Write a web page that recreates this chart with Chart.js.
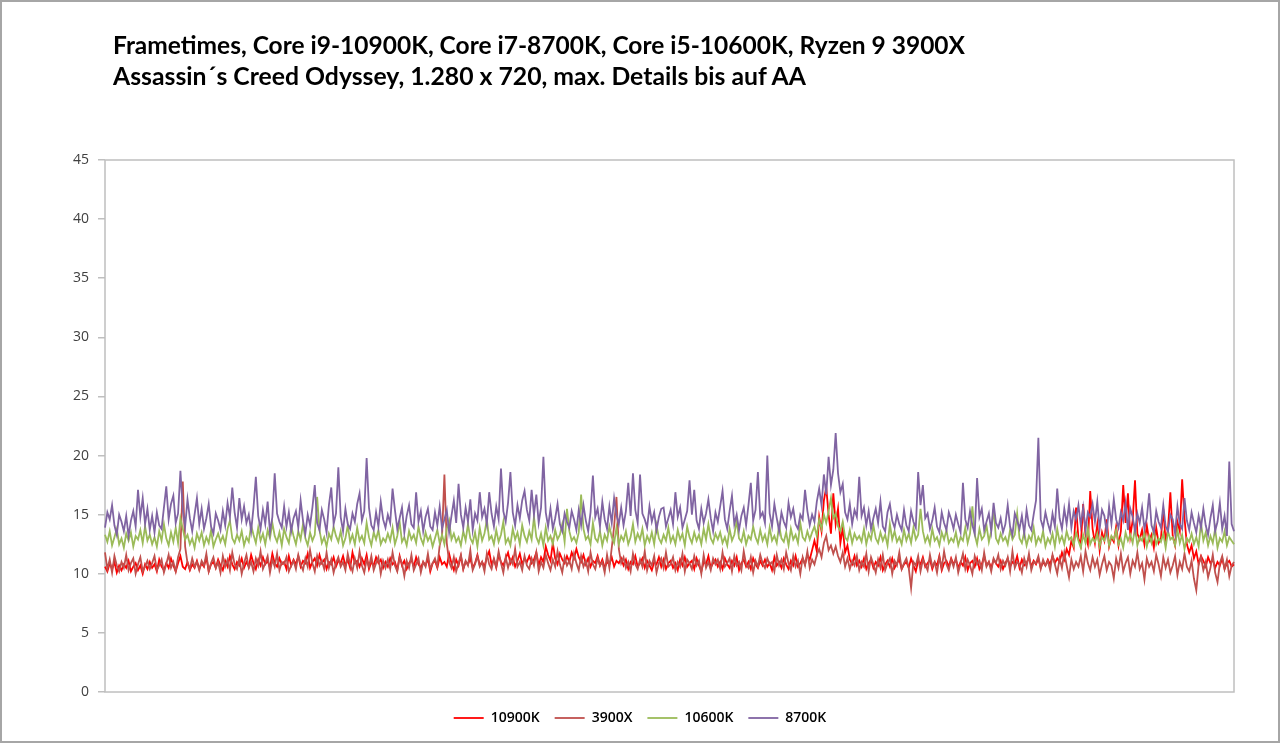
<!DOCTYPE html>
<html lang="de">
<head>
<meta charset="utf-8">
<title>Frametimes Assassin´s Creed Odyssey</title>
<script src="https://cdn.jsdelivr.net/npm/chart.js@4.4.1/dist/chart.umd.min.js"></script>
<style>
    html, body { margin: 0; padding: 0; background: #fff; }
    #frame {
        position: relative;
        width: 1280px;
        height: 743px;
        box-sizing: border-box;
        border: 2px solid #a6a6a6;
        overflow: hidden;
    }
    #chart { position: absolute; left: -2px; top: -2px; }
    .title-line {
        position: absolute;
        left: 111px;
        font-family: Lato, "Open Sans", sans-serif;
        font-weight: bold;
        font-size: 25px;
        color: #000;
        white-space: nowrap;
        transform-origin: 0 0;
        line-height: 1;
    }
    #title1 { top: 30px; }
    #title2 { top: 61px; }
</style>
</head>
<body>
<div id="frame">
    <canvas id="chart" width="1280" height="743"></canvas>
    <div class="title-line" id="title1" data-w="852">Frametimes, Core i9-10900K, Core i7-8700K, Core i5-10600K, Ryzen 9 3900X</div>
    <div class="title-line" id="title2" data-w="693">Assassin´s Creed Odyssey, 1.280 x 720, max. Details bis auf AA</div>
</div>
<script>
// Frametimes in ms (480 Stuetzpunkte je Reihe, 20 pro Zeile)
const seriesNames = ['10900K', '3900X', '10600K', '8700K'];
const seriesColors = ['#FF0000', '#C0504D', '#9BBB59', '#8064A2'];
const yTicks = [0, 5, 10, 15, 20, 25, 30, 35, 40, 45];

const ft10900K = [
    10.6, 10.2, 10.9, 10.4, 11.0, 10.1, 10.7, 10.3, 10.8, 10.5, 11.1, 10.2, 10.6, 10.9, 10.3, 10.7, 10.0, 10.8, 10.4, 11.0,
    10.5, 10.8, 10.2, 11.2, 10.6, 10.3, 10.9, 10.5, 11.3, 10.7, 10.2, 10.9, 11.5, 10.6, 10.4, 11.0, 10.3, 10.8, 10.5, 11.1,
    10.4, 10.9, 10.6, 11.4, 10.2, 10.8, 11.0, 10.5, 11.2, 10.7, 10.3, 11.1, 10.6, 11.5, 10.8, 10.4, 11.0, 10.7, 11.3, 10.5,
    11.0, 10.6, 11.6, 10.9, 10.4, 11.2, 10.7, 11.4, 10.8, 11.1, 10.5, 11.7, 10.9, 10.6, 11.3, 10.8, 11.0, 10.4, 11.5, 10.7,
    11.2, 10.8, 11.5, 10.6, 11.1, 10.9, 11.7, 10.5, 11.0, 11.3, 10.7, 11.6, 10.9, 11.2, 10.4, 11.0, 10.8, 11.4, 10.6, 11.1,
    10.9, 11.5, 10.7, 11.2, 10.5, 11.8, 10.9, 11.1, 10.6, 11.3, 10.8, 11.6, 10.4, 11.0, 10.7, 11.4, 10.9, 11.2, 10.5, 11.0,
    10.6, 11.3, 10.8, 11.0, 10.3, 11.5, 10.7, 11.1, 10.4, 10.9, 11.2, 10.6, 11.4, 10.8, 10.5, 11.0, 10.7, 11.3, 10.2, 10.9,
    11.1, 10.5, 11.4, 10.8, 11.0, 10.6, 11.7, 10.9, 10.3, 11.2, 10.7, 11.5, 10.4, 11.0, 10.8, 11.3, 10.5, 10.9, 11.6, 10.7,
    11.0, 10.6, 11.4, 11.9, 10.8, 11.2, 10.5, 11.6, 11.0, 10.7, 11.3, 11.8, 10.9, 11.4, 10.6, 11.1, 11.7, 10.8, 11.3, 11.0,
    11.5, 10.9, 11.2, 11.8, 10.7, 11.4, 11.0, 12.3, 11.6, 11.1, 12.6, 11.3, 10.8, 11.7, 11.2, 10.9, 11.5, 11.0, 11.8, 11.3,
    12.1, 11.4, 11.0, 11.6, 10.8, 11.3, 10.6, 11.1, 10.9, 11.5, 10.7, 11.2, 10.5, 11.0, 10.8, 11.4, 10.6, 11.1, 10.9, 11.3,
    10.7, 11.2, 10.4, 11.0, 10.8, 11.5, 10.6, 10.9, 11.3, 10.5, 11.1, 10.7, 10.3, 11.0, 10.8, 11.4, 10.6, 11.2, 10.4, 10.9,
    11.1, 10.5, 10.9, 10.3, 11.2, 10.7, 11.4, 10.6, 10.9, 11.1, 10.4, 11.3, 10.7, 10.2, 11.0, 10.8, 11.5, 10.5, 10.9, 11.2,
    10.6, 11.0, 10.4, 11.3, 10.8, 10.5, 11.1, 10.7, 11.4, 10.3, 10.9, 11.2, 10.6, 11.0, 10.4, 11.3, 10.8, 10.5, 11.1, 10.7,
    11.2, 10.6, 10.9, 10.3, 11.4, 10.7, 11.0, 10.5, 11.3, 10.8, 10.4, 11.1, 10.7, 11.5, 10.6, 10.9, 11.3, 10.8, 11.6, 11.2,
    12.0, 12.8, 11.9, 14.8, 13.6, 16.2, 17.3, 15.0, 13.4, 16.8, 14.2, 15.5, 12.6, 13.9, 11.8, 12.4, 11.2, 10.8, 11.5, 10.7,
    11.1, 10.6, 11.3, 10.4, 10.9, 11.2, 10.5, 11.0, 10.7, 11.4, 10.3, 10.8, 11.1, 10.6, 11.3, 10.5, 10.9, 11.2, 10.4, 10.8,
    11.0, 10.5, 11.3, 10.7, 10.2, 11.1, 10.8, 11.4, 10.6, 10.9, 11.2, 10.4, 11.0, 10.7, 11.5, 10.3, 10.9, 11.1, 10.6, 11.3,
    10.8, 11.2, 10.5, 11.0, 10.7, 11.4, 10.3, 10.9, 11.1, 10.6, 11.3, 10.4, 10.8, 11.5, 10.7, 11.0, 10.5, 11.2, 10.9, 10.6,
    11.1, 10.4, 10.9, 11.3, 10.6, 11.0, 10.8, 11.5, 10.5, 11.2, 10.7, 10.9, 11.4, 10.6, 11.1, 10.8, 11.3, 10.5, 11.0, 10.7,
    11.2, 10.8, 11.5, 10.9, 11.3, 11.0, 11.8, 11.2, 12.1, 11.6, 12.8, 12.2, 15.6, 13.0, 12.4, 15.9, 13.3, 12.5, 17.0, 13.8,
    12.6, 14.2, 12.0, 13.5, 12.8, 14.6, 12.3, 13.1, 12.7, 14.0, 12.4, 13.6, 17.5, 14.3, 16.8, 13.2, 14.5, 17.9, 13.4, 12.9,
    13.7, 12.5, 14.1, 12.8, 13.3, 12.2, 13.9, 12.6, 13.0, 15.5, 12.7, 13.8, 16.9, 13.2, 12.4, 14.4, 13.6, 18.0, 14.7, 12.5,
    11.8, 12.4, 11.3, 11.9, 10.8, 11.5, 11.1, 10.6, 11.4, 10.9, 11.2, 10.5, 11.0, 10.7, 11.3, 10.4, 10.9, 11.1, 10.6, 10.8
];

const ft3900X = [
    11.8, 10.4, 11.2, 10.1, 11.5, 10.7, 10.2, 11.0, 10.5, 11.6, 10.3, 10.9, 11.3, 10.0, 10.8, 11.4, 10.2, 10.6, 11.1, 10.4,
    10.9, 11.5, 10.3, 10.7, 11.2, 10.1, 10.8, 11.6, 10.5, 11.0, 10.2, 11.4, 12.1, 17.8, 12.3, 10.9, 10.4, 11.3, 10.6, 11.0,
    10.3, 11.1, 10.7, 11.7, 10.2, 10.9, 11.4, 10.5, 11.0, 10.1, 11.5, 10.6, 11.2, 10.3, 11.8, 10.8, 10.4, 11.3, 10.0, 10.9,
    11.6, 10.5, 11.0, 10.2, 11.3, 10.7, 11.9, 10.4, 10.9, 11.5, 10.1, 11.2, 10.6, 11.7, 10.3, 11.0, 10.8, 11.4, 10.2, 10.7,
    11.1, 10.4, 11.6, 10.8, 10.3, 11.3, 10.6, 12.0, 10.9, 10.2, 11.5, 10.7, 11.1, 10.4, 11.8, 10.5, 11.2, 10.1, 10.9, 11.4,
    10.6, 11.0, 10.3, 11.7, 10.8, 10.2, 11.3, 10.5, 11.9, 10.7, 10.1, 11.2, 10.6, 11.5, 10.3, 10.9, 11.4, 10.0, 11.1, 10.5,
    11.2, 10.4, 11.8, 10.7, 10.2, 11.4, 10.9, 9.8, 11.1, 10.5, 11.6, 10.3, 10.8, 11.3, 10.1, 11.0, 10.6, 11.7, 10.4, 10.9,
    11.3, 10.6, 12.4, 13.2, 18.4, 12.6, 11.0, 10.5, 11.4, 10.2, 10.9, 11.6, 10.4, 11.1, 10.7, 12.0, 10.3, 10.8, 11.5, 10.6,
    11.0, 10.2, 11.7, 10.8, 10.4, 11.3, 10.6, 11.9, 10.9, 10.1, 11.4, 10.5, 11.2, 10.8, 12.1, 10.6, 11.0, 10.3, 11.5, 10.7,
    10.4, 11.3, 10.7, 11.8, 10.2, 11.0, 10.5, 11.6, 10.9, 10.3, 11.2, 10.6, 11.9, 10.8, 10.1, 11.4, 10.7, 11.1, 10.4, 11.7,
    10.9, 10.3, 11.5, 10.6, 11.1, 10.2, 11.8, 10.8, 10.4, 11.3, 10.7, 11.0, 10.1, 11.6, 10.5, 12.2, 14.0, 16.5, 12.1, 10.9,
    11.4, 10.5, 11.0, 10.2, 11.7, 10.8, 10.4, 11.2, 10.6, 11.9, 10.3, 11.1, 10.7, 11.5, 10.1, 10.9, 11.3, 10.5, 11.8, 10.6,
    10.8, 11.4, 10.3, 11.0, 10.6, 11.7, 10.2, 11.2, 10.9, 10.4, 11.5, 10.7, 11.1, 10.0, 11.6, 10.5, 11.0, 10.3, 11.3, 10.8,
    11.2, 10.4, 11.8, 10.6, 10.9, 11.3, 10.2, 11.5, 10.7, 11.0, 10.3, 11.9, 10.8, 10.5, 11.4, 10.1, 11.1, 10.6, 11.6, 10.9,
    10.5, 11.3, 10.8, 11.0, 10.2, 11.6, 10.7, 11.2, 10.4, 11.8, 10.9, 10.3, 11.5, 10.6, 11.1, 10.0, 11.4, 10.7, 11.9, 10.5,
    11.2, 10.8, 11.6, 12.1, 11.4, 12.6, 13.2, 12.0, 12.4, 11.7, 12.3, 11.5, 11.0, 11.8, 10.6, 11.3, 10.4, 11.1, 10.7, 11.5,
    10.3, 11.0, 10.6, 11.7, 10.2, 11.4, 10.8, 10.1, 11.2, 10.5, 11.6, 10.3, 10.9, 11.3, 10.0, 11.1, 10.7, 11.8, 10.4, 10.9,
    11.3, 10.5, 8.8, 11.0, 10.7, 11.5, 10.2, 11.2, 10.8, 10.3, 11.6, 10.6, 11.0, 10.1, 11.4, 10.5, 11.9, 10.8, 10.3, 11.2,
    10.6, 11.4, 10.1, 10.9, 11.7, 10.4, 11.2, 10.7, 10.0, 11.5, 10.8, 11.1, 10.3, 11.8, 10.6, 11.0, 10.2, 11.3, 10.9, 11.6,
    10.4, 11.1, 10.7, 11.4, 10.2, 11.9, 10.5, 11.0, 10.8, 10.1, 11.3, 10.6, 11.7, 10.3, 11.0, 10.9, 11.5, 10.4, 11.2, 10.7,
    11.1, 10.3, 11.6, 10.8, 10.0, 11.3, 10.5, 11.8, 10.7, 9.7, 11.2, 10.4, 11.0, 10.6, 11.5, 10.2, 11.9, 10.9, 10.3, 11.4,
    10.6, 11.2, 9.9, 10.8, 11.5, 10.3, 11.0, 10.7, 9.6, 11.3, 10.5, 11.7, 10.2, 10.9, 11.4, 10.0, 11.1, 10.6, 11.8, 10.4,
    10.9, 9.5, 11.3, 10.6, 11.0, 10.2, 11.6, 10.8, 9.8, 11.4, 10.5, 11.2, 10.1, 10.7, 11.5, 9.9, 11.0, 10.4, 11.7, 10.6,
    10.2, 11.1, 9.6, 8.6, 10.8, 11.4, 10.3, 11.0, 9.7, 10.5, 11.6, 10.1, 9.3, 10.9, 11.5, 10.4, 11.2, 9.8, 10.7, 11.0
];

const ft10600K = [
    13.3, 12.7, 13.6, 12.4, 13.1, 13.8, 12.5, 13.0, 12.2, 13.4, 12.8, 13.5, 12.3, 13.2, 12.9, 13.7, 12.6, 14.0, 12.8, 13.3,
    12.5, 13.1, 12.3, 13.6, 12.8, 14.2, 13.0, 12.4, 13.5, 12.7, 13.9, 12.6, 14.7, 13.8, 12.9, 13.3, 12.5, 13.0, 12.2, 13.4,
    12.8, 13.5, 12.4, 13.1, 12.6, 13.7, 12.3, 12.9, 13.4, 12.7, 13.2, 12.5, 13.8, 14.5, 13.0, 12.6, 13.3, 12.8, 13.6, 12.4,
    13.1, 12.7, 14.1, 13.3, 12.6, 13.9, 12.8, 13.4, 12.5, 13.7, 13.0, 14.3, 13.2, 12.7, 13.5, 12.4, 13.8, 13.1, 12.6, 14.0,
    13.2, 12.5, 13.6, 12.9, 14.2, 13.0, 12.4, 13.5, 12.8, 13.3, 16.5, 13.7, 12.6, 13.1, 12.3, 13.4, 12.9, 14.0, 13.2, 12.7,
    13.6, 12.4, 13.0, 14.1, 12.7, 13.3, 12.5, 13.9, 12.8, 13.2, 12.6, 14.3, 13.1, 12.4, 13.5, 12.9, 13.7, 12.5, 13.0, 12.7,
    13.4, 12.8, 13.9, 12.5, 13.2, 14.4, 12.7, 13.1, 12.4, 13.6, 12.9, 13.3, 12.6, 14.0, 13.0, 12.5, 13.5, 12.8, 13.2, 12.3,
    13.0, 13.7, 12.6, 13.3, 12.5, 13.8, 14.5, 12.9, 13.4, 12.7, 13.1, 12.4, 13.6, 12.8, 14.2, 13.0, 12.6, 13.5, 12.3, 13.9,
    12.8, 13.4, 14.6, 12.9, 13.2, 12.5, 13.7, 12.7, 13.3, 14.4, 12.6, 13.0, 12.4, 13.8, 12.9, 13.5, 12.5, 14.1, 13.2, 12.7,
    13.6, 12.9, 14.8, 13.1, 12.6, 13.4, 12.4, 13.9, 12.8, 13.2, 12.5, 13.7, 12.9, 13.3, 14.2, 12.7, 15.5, 13.6, 12.8, 13.1,
    12.6, 13.5, 16.7, 13.8, 12.9, 13.2, 12.5, 14.3, 13.0, 12.7, 13.6, 12.4, 13.3, 12.8, 14.0, 13.1, 12.6, 13.9, 12.5, 13.2,
    12.8, 13.6, 12.5, 13.1, 14.2, 12.7, 13.4, 12.9, 13.8, 12.4, 13.2, 12.7, 13.5, 12.5, 14.1, 13.0, 12.6, 13.3, 12.8, 13.9,
    12.7, 13.2, 12.5, 13.7, 12.9, 13.4, 12.4, 14.0, 13.1, 12.6, 13.5, 12.8, 13.3, 12.5, 13.8, 12.9, 14.2, 13.0, 12.6, 13.4,
    12.9, 13.5, 12.6, 13.1, 12.4, 13.8, 12.8, 13.3, 14.5, 13.0, 12.7, 13.6, 12.5, 13.2, 12.9, 14.0, 13.1, 12.6, 13.7, 12.8,
    13.3, 12.5, 13.9, 12.8, 13.2, 12.6, 14.1, 13.0, 12.7, 13.5, 12.4, 13.8, 12.9, 13.3, 12.6, 14.3, 13.1, 12.8, 13.6, 12.9,
    13.5, 14.0, 13.2, 14.6, 13.8, 15.0, 14.3, 15.3, 16.4, 14.7, 15.1, 14.0, 13.6, 14.4, 13.1, 12.8, 13.7, 12.6, 13.4, 12.9,
    13.2, 12.7, 13.8, 12.5, 13.4, 12.9, 14.1, 13.0, 12.6, 13.5, 12.8, 13.3, 12.4, 14.2, 12.9, 13.6, 12.7, 13.1, 12.5, 13.7,
    12.8, 13.4, 12.6, 13.9, 12.9, 13.3, 15.5, 13.6, 12.7, 13.2, 12.5, 13.8, 12.8, 13.1, 12.4, 13.5, 12.9, 13.7, 12.6, 13.0,
    12.7, 13.5, 12.4, 13.1, 12.8, 13.9, 12.6, 13.4, 15.7, 13.3, 12.5, 13.8, 12.9, 13.2, 14.1, 12.7, 13.6, 15.5, 13.0, 12.6,
    13.4, 12.8, 13.1, 12.5, 13.7, 12.9, 13.3, 15.1, 13.0, 12.6, 13.5, 12.4, 13.2, 12.8, 13.9, 12.5, 13.1, 12.7, 13.6, 12.3,
    13.0, 12.6, 13.4, 12.3, 13.8, 12.7, 13.2, 12.5, 13.6, 12.9, 13.1, 12.4, 13.5, 12.8, 12.2, 13.3, 12.6, 13.9, 12.5, 13.0,
    12.7, 13.4, 12.3, 13.1, 12.8, 13.6, 12.4, 13.2, 12.9, 13.7, 12.5, 13.0, 12.2, 13.5, 12.8, 13.3, 12.6, 13.9, 12.4, 13.1,
    12.8, 13.5, 12.3, 13.2, 12.6, 13.8, 12.5, 13.0, 12.7, 13.4, 12.2, 13.6, 12.9, 13.1, 12.4, 13.7, 12.6, 13.3, 12.1, 13.0,
    12.7, 13.4, 12.5, 13.1, 12.3, 14.3, 12.8, 13.5, 12.4, 13.2, 12.6, 13.8, 12.2, 13.0, 12.7, 13.6, 12.4, 13.1, 12.8, 12.5
];

const ft8700K = [
    13.9, 15.2, 14.6, 15.8, 14.1, 13.3, 15.0, 14.4, 13.6, 14.9, 13.2, 14.5, 15.3, 14.0, 17.1, 14.8, 16.4, 14.2, 15.5, 13.7,
    14.9, 13.5, 15.2, 14.1, 13.8, 15.6, 17.4, 14.6, 15.9, 16.6, 14.3, 15.1, 18.7, 15.4, 14.0, 16.3, 14.7, 13.6, 15.0, 16.4,
    14.2, 15.5, 13.8, 14.7, 15.9, 14.0, 13.4, 15.1, 14.5, 13.7, 15.3, 14.1, 16.0, 14.8, 17.3, 15.2, 13.9, 16.4, 14.6, 15.7,
    14.3, 15.0, 13.6, 15.6, 18.2, 14.9, 13.8, 15.4, 14.2, 16.1, 13.5, 14.8, 18.5, 15.1, 14.4, 13.9, 15.7, 14.0, 15.2, 13.6,
    14.7, 15.3, 13.9, 16.2, 14.5, 13.4, 15.0, 14.1, 15.6, 17.5, 14.3, 13.7, 15.4, 14.6, 13.5, 15.8, 17.3, 14.2, 15.1, 19.0,
    14.8, 13.6, 15.5, 14.2, 13.8, 15.1, 14.4, 15.9, 16.8, 14.5, 15.3, 19.8, 15.6, 14.1, 13.7, 15.2, 14.0, 16.1, 14.6, 13.9,
    15.0, 14.3, 17.2, 15.4, 13.8, 14.7, 15.6, 13.5, 14.9, 15.8, 14.2, 13.9, 16.9, 14.4, 15.3, 13.6, 14.8, 15.5, 14.0, 13.7,
    15.2, 14.1, 15.7, 13.8, 14.6, 15.4, 13.5, 14.9, 16.2, 14.3, 17.6, 15.0, 13.9, 15.6, 14.4, 16.3, 13.7, 15.1, 14.5, 16.9,
    14.8, 15.5, 14.2, 16.9, 15.1, 14.0, 15.7, 14.6, 18.9, 15.3, 14.4, 16.0, 18.6, 15.2, 14.1, 15.8, 14.7, 16.2, 17.0, 15.4,
    14.5, 17.1, 15.0, 16.7, 14.3, 15.6, 19.9, 15.2, 14.0, 15.5, 13.8, 14.7, 15.9, 14.2, 13.6, 15.1, 14.4, 13.9, 15.3, 14.6,
    13.7, 15.4, 14.1, 15.8, 14.5, 13.6, 15.2, 18.3, 14.8, 15.5, 14.0, 16.1, 14.6, 13.8, 15.7, 14.3, 16.4, 15.0, 14.2, 15.6,
    14.1, 15.3, 17.7, 14.9, 18.5, 15.4, 14.3, 18.4, 15.1, 14.6, 13.9, 15.7, 14.4, 15.2, 13.7, 14.8, 15.5, 15.6, 14.0, 14.7,
    15.4, 14.2, 16.9, 14.8, 15.6, 13.9, 14.6, 15.3, 17.9, 15.0, 17.1, 14.5, 13.8, 15.5, 14.3, 15.1, 16.3, 14.7, 13.6, 15.2,
    14.4, 15.7, 17.0, 14.6, 13.8, 15.3, 16.6, 14.2, 15.0, 13.7, 14.9, 15.6, 14.1, 15.8, 17.7, 14.5, 15.4, 18.6, 14.8, 15.2,
    14.3, 20.0, 15.1, 14.0, 15.9, 14.7, 13.6, 15.2, 14.4, 13.9, 16.0, 14.8, 15.5, 14.2, 13.8, 15.0, 14.6, 17.1, 15.3, 14.1,
    15.0, 14.4, 16.1, 17.2, 15.8, 18.4, 16.7, 19.9, 17.5, 18.8, 21.9, 18.5, 16.9, 17.6, 15.2, 14.6, 15.9, 14.2, 15.4, 14.8,
    18.2, 14.9, 15.6, 14.1, 15.3, 13.8, 14.7, 15.5, 14.3, 16.1, 14.0, 13.6, 15.2, 15.9, 14.5, 13.9, 15.0, 14.2, 13.7, 15.4,
    14.1, 13.6, 15.3, 14.4, 13.9, 18.6, 15.8, 17.5, 14.7, 15.1, 13.8, 14.5, 15.6, 14.0, 13.5, 15.2, 14.3, 13.7, 15.2, 14.6,
    13.8, 15.0, 14.2, 13.5, 17.7, 14.6, 13.9, 15.3, 14.1, 13.4, 18.1, 14.8, 15.5, 13.7, 14.4, 15.1, 13.6, 16.0, 14.3, 13.9,
    14.7, 13.5, 14.2, 15.8, 14.0, 13.3, 15.1, 14.5, 13.8, 14.9, 13.4, 15.4, 14.1, 13.7, 15.0, 16.2, 21.5, 14.6, 13.9, 15.2,
    14.3, 13.6, 15.1, 14.0, 17.2, 14.7, 13.8, 15.5, 14.2, 15.9, 13.9, 15.3, 14.6, 15.8, 14.1, 15.6, 13.7, 15.2, 14.8, 15.9,
    14.4, 16.1, 13.8, 15.4, 14.9, 13.5, 15.7, 14.2, 16.3, 14.6, 13.9, 15.2, 14.5, 16.0, 13.7, 15.5, 14.8, 13.6, 15.1, 14.3,
    15.6, 13.8, 14.7, 16.8, 14.1, 13.5, 15.3, 14.4, 13.9, 15.8, 14.0, 13.6, 15.0, 14.6, 13.4, 15.7, 14.2, 13.8, 16.4, 14.5,
    13.7, 15.2, 14.3, 13.5, 14.9, 13.9, 15.5, 14.1, 13.3, 14.7, 15.8, 13.6, 14.4, 16.0, 13.8, 14.9, 13.2, 19.5, 14.2, 13.6
];

// Frame-Nummern als Kategorien der x-Achse
const frames = ft8700K.map((_, i) => i + 1);

document.addEventListener('DOMContentLoaded', function() {
    fitTitles();
    initChart();
});

// Titelzeilen auf die Breite im Original bringen
function fitTitles() {
    document.querySelectorAll('.title-line').forEach(el => {
        const target = parseFloat(el.dataset.w);
        const w = el.getBoundingClientRect().width;
        if (w > 0) {
            el.style.transform = 'scaleX(' + (target / w) + ')';
        }
    });
}

// Rahmen um die Zeichenflaeche
const plotBorder = {
    id: 'plotBorder',
    beforeDatasetsDraw(chart) {
        const { ctx, chartArea } = chart;
        ctx.save();
        ctx.strokeStyle = '#bfbfbf';
        ctx.lineWidth = 1.5;
        ctx.strokeRect(chartArea.left, chartArea.top,
            chartArea.right - chartArea.left, chartArea.bottom - chartArea.top);
        ctx.restore();
    }
};

function initChart() {
    const canvas = document.getElementById('chart');
    const sources = [ft10900K, ft3900X, ft10600K, ft8700K];

    const datasets = seriesNames.map((name, i) => ({
        label: name,
        data: sources[i],
        borderColor: seriesColors[i],
        backgroundColor: seriesColors[i],
        borderWidth: 1.8,
        pointRadius: 0,
        tension: 0,
        fill: false,
        // letzte Reihe liegt oben wie in Excel
        order: seriesNames.length - 1 - i
    }));

    new Chart(canvas, {
        type: 'line',
        data: {
            labels: frames,
            datasets: datasets
        },
        options: {
            responsive: false,
            animation: false,
            devicePixelRatio: 1,
            layout: {
                padding: { top: 160, left: 0, right: 0, bottom: 8 }
            },
            scales: {
                x: {
                    offset: false,
                    ticks: { display: false },
                    grid: { display: false },
                    border: { display: false },
                    afterFit: scale => { scale.height = 4; }
                },
                y: {
                    min: 0,
                    max: 45,
                    afterBuildTicks: scale => {
                        scale.ticks = yTicks.map(v => ({ value: v }));
                    },
                    afterFit: scale => { scale.width = 105; },
                    ticks: {
                        color: '#404040',
                        padding: 9,
                        font: { family: '"Open Sans", sans-serif', size: 14 }
                    },
                    grid: {
                        drawOnChartArea: false,
                        drawTicks: true,
                        tickLength: 7,
                        color: '#bfbfbf',
                        lineWidth: 1.5
                    },
                    border: { display: false }
                },
                // leerer Rand rechts, damit die Legende mittig bleibt
                yRight: {
                    position: 'right',
                    ticks: { display: false },
                    grid: { display: false },
                    border: { display: false },
                    afterFit: scale => { scale.width = 46; }
                }
            },
            plugins: {
                legend: {
                    position: 'bottom',
                    labels: {
                        usePointStyle: true,
                        pointStyle: 'line',
                        pointStyleWidth: 30,
                        padding: 15,
                        color: '#000',
                        font: { family: '"Open Sans", sans-serif', size: 14, weight: '600' },
                        sort: (a, b) => a.datasetIndex - b.datasetIndex
                    }
                },
                tooltip: { enabled: false }
            }
        },
        plugins: [plotBorder]
    });
}
</script>
</body>
</html>
